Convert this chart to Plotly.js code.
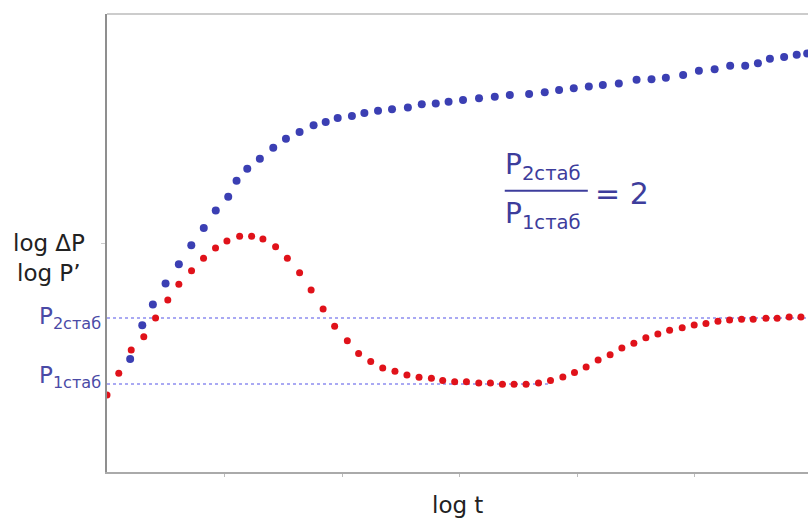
<!DOCTYPE html>
<html>
<head>
<meta charset="utf-8">
<script src="https://cdn.plot.ly/plotly-3.0.1.min.js"></script>
<style>html,body{margin:0;padding:0;background:#fff;}#chart{width:808px;height:519px;}</style>
</head>
<body>
<div id="chart"></div>
<script>
// log t values (arbitrary units) and curves
const derivX = [0.000,0.100,0.206,0.313,0.413,0.517,0.611,0.719,0.821,0.923,1.020,1.128,1.230,1.326,1.434,1.534,1.638,1.736,1.838,1.936,2.044,2.140,2.243,2.345,2.449,2.551,2.654,2.759,2.855,2.957,3.057,3.162,3.261,3.363,3.462,3.564,3.670,3.772,3.877,3.976,4.075,4.177,4.279,4.379,4.481,4.583,4.685,4.785,4.892,4.994,5.094,5.196,5.295,5.397,5.496,5.604,5.700,5.802,5.902];
const derivY = [0.336,0.431,0.533,0.591,0.672,0.751,0.820,0.879,0.933,0.978,1.009,1.029,1.029,1.017,0.984,0.933,0.870,0.795,0.712,0.637,0.573,0.518,0.483,0.454,0.440,0.424,0.414,0.409,0.400,0.394,0.394,0.389,0.389,0.383,0.383,0.383,0.389,0.400,0.415,0.435,0.459,0.489,0.512,0.541,0.562,0.586,0.603,0.619,0.630,0.642,0.649,0.658,0.664,0.667,0.667,0.671,0.671,0.677,0.677];
const pressX = [0.197,0.300,0.390,0.498,0.611,0.717,0.823,0.925,1.031,1.102,1.193,1.300,1.414,1.522,1.638,1.757,1.860,1.962,2.083,2.189,2.305,2.424,2.559,2.677,2.796,2.905,3.028,3.164,3.298,3.426,3.590,3.723,3.845,3.970,4.098,4.217,4.353,4.504,4.631,4.753,4.900,5.034,5.168,5.300,5.428,5.536,5.638,5.759,5.866,5.955];
const pressY = [0.493,0.641,0.731,0.823,0.907,0.990,1.066,1.142,1.202,1.272,1.324,1.368,1.416,1.455,1.485,1.514,1.528,1.546,1.555,1.568,1.577,1.584,1.592,1.606,1.609,1.617,1.624,1.632,1.639,1.646,1.651,1.658,1.668,1.676,1.683,1.690,1.697,1.713,1.715,1.722,1.734,1.752,1.759,1.774,1.774,1.785,1.805,1.812,1.822,1.828];
const P1stab = 0.384;
const P2stab = 0.672;
const P1lineEnd = 3.75;
const xTicks = [1,2,3,4,5];
const yTicks = [1];

const labelColor = '#4a4aa6';
const fracColor = '#3d3d9c';
const font = 'DejaVu Sans, Verdana, sans-serif';

const traces = [
  {x: pressX, y: pressY, mode: 'markers', type: 'scatter',
   marker: {color: '#3b3fb3', size: 8}, hoverinfo: 'skip'},
  {x: derivX, y: derivY, mode: 'markers', type: 'scatter',
   marker: {color: '#e0121a', size: 7}, hoverinfo: 'skip'}
];

const layout = {
  width: 808, height: 519,
  margin: {l: 107, r: 0, t: 14, b: 47, pad: 0},
  paper_bgcolor: '#fff', plot_bgcolor: '#fff',
  showlegend: false,
  xaxis: {range: [0, 5.962], showgrid: false, zeroline: false, showline: true,
          linecolor: '#aaaaaa', linewidth: 2, ticks: 'outside', ticklen: 3,
          tickcolor: '#bbbbbb', tickwidth: 1, tickvals: xTicks, showticklabels: false, fixedrange: true},
  yaxis: {range: [0, 2], showgrid: false, zeroline: false, showline: true,
          linecolor: '#8f8f8f', linewidth: 2, ticks: 'outside', ticklen: 4,
          tickcolor: '#cccccc', tickwidth: 1, tickvals: yTicks, showticklabels: false, fixedrange: true},
  shapes: [
    {type: 'line', xref: 'paper', yref: 'paper', x0: 0, x1: 1, y0: 1, y1: 1,
     line: {color: '#cccccc', width: 2}},
    {type: 'line', xref: 'x', yref: 'y', x0: 0, x1: 5.962, y0: P2stab, y1: P2stab,
     line: {color: '#8d8def', width: 1.5, dash: 'dot'}, layer: 'below'},
    {type: 'line', xref: 'x', yref: 'y', x0: 0, x1: P1lineEnd, y0: P1stab, y1: P1stab,
     line: {color: '#8d8def', width: 1.5, dash: 'dot'}, layer: 'below'},
    {type: 'line', xref: 'paper', yref: 'paper', x0: 0.5674, x1: 0.6859, y0: 0.614, y1: 0.614,
     line: {color: fracColor, width: 2}}
  ],
  annotations: [
    {text: 'log t', xref: 'paper', yref: 'paper', x: 0.5, y: -0.073, xanchor: 'center', yanchor: 'middle',
     showarrow: false, font: {family: font, size: 23, color: '#222'}},
    {text: 'log \u0394P', xref: 'paper', yref: 'paper', x: -0.083, y: 0.5, xanchor: 'center', yanchor: 'middle',
     showarrow: false, font: {family: font, size: 23, color: '#222'}},
    {text: 'log P\u2019', xref: 'paper', yref: 'paper', x: -0.083, y: 0.4345, xanchor: 'center', yanchor: 'middle',
     showarrow: false, font: {family: font, size: 23, color: '#222'}},
    {text: 'P<sub>2стаб</sub>', xref: 'paper', yref: 'paper', x: -0.0064, y: 0.336, xanchor: 'right', yanchor: 'middle',
     showarrow: false, font: {family: font, size: 23, color: labelColor}},
    {text: 'P<sub>1стаб</sub>', xref: 'paper', yref: 'paper', x: -0.0064, y: 0.2085, xanchor: 'right', yanchor: 'middle',
     showarrow: false, font: {family: font, size: 23, color: labelColor}},
    {text: 'P<sub>2стаб</sub>', xref: 'paper', yref: 'paper', x: 0.6217, y: 0.668, xanchor: 'center', yanchor: 'middle',
     showarrow: false, font: {family: font, size: 28, color: fracColor}},
    {text: 'P<sub>1стаб</sub>', xref: 'paper', yref: 'paper', x: 0.6217, y: 0.561, xanchor: 'center', yanchor: 'middle',
     showarrow: false, font: {family: font, size: 28, color: fracColor}},
    {text: '= 2', xref: 'paper', yref: 'paper', x: 0.7345, y: 0.609, xanchor: 'center', yanchor: 'middle',
     showarrow: false, font: {family: font, size: 30, color: fracColor}}
  ]
};

Plotly.newPlot('chart', traces, layout, {staticPlot: true, displayModeBar: false});
</script>
</body>
</html>
